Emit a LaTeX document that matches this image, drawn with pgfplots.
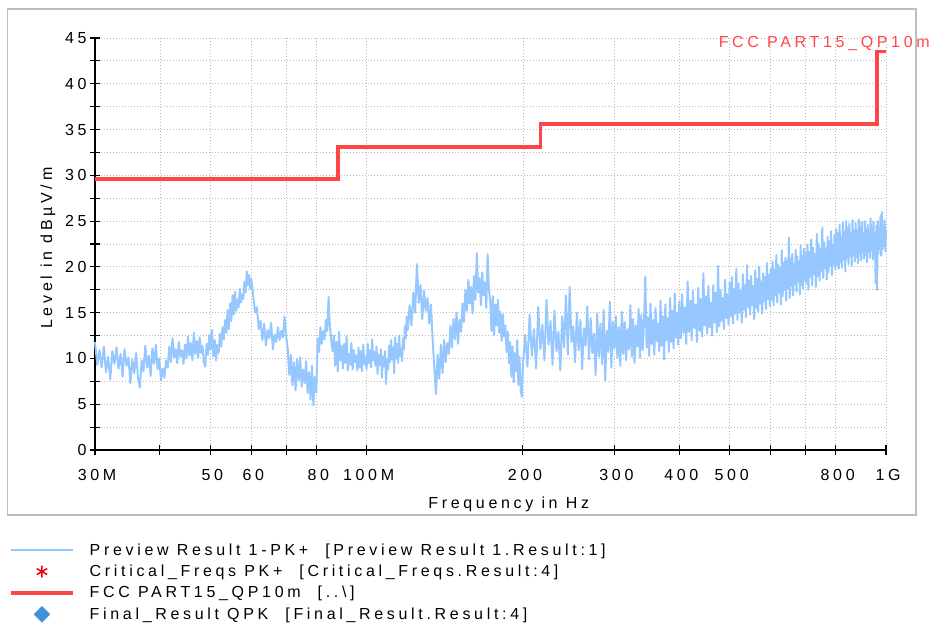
\documentclass[border=0pt]{standalone}
\usepackage{fontspec}
\setmainfont{Liberation Sans}[LetterSpace=23]
\usepackage{pgfplots}
\pgfplotsset{compat=1.18}

\definecolor{trace}{RGB}{150,200,255}
\definecolor{limitred}{RGB}{255,70,70}
\definecolor{astred}{RGB}{240,0,0}
\definecolor{qpk}{RGB}{65,145,220}
\definecolor{gridc}{RGB}{185,185,185}
\definecolor{framec}{RGB}{190,190,190}
\newcommand\fs{\fontsize{16}{19}\selectfont}

\begin{document}
\begin{tikzpicture}[x=1pt,y=1pt]
\useasboundingbox (0,0) rectangle (939,626);
\draw[framec, line width=1.6pt] (7.5,617) rectangle (916,111);
\begin{axis}[
    at={(95pt,176pt)}, anchor=south west,
    scale only axis, width=791pt, height=412pt,
    xmode=log, xmin=30, xmax=1000, ymin=0, ymax=45,
    axis lines=left, axis line style={-, line width=1.3pt, black},
    xtick={30,40,50,60,70,80,100,200,300,400,500,600,700,800,1000},
    xticklabels={30M,,50,60,,80,100M,200,300,400,500,,,800,1G},
    minor xtick={},
    ytick={0,5,...,45},
    yticklabels={0,5,10,15,20,25,30,35,40,45},
    minor ytick={2.5,7.5,...,42.5},
    grid=both,
    major grid style={gridc, line width=0.8pt, dash pattern=on 1.2pt off 1.8pt},
    minor grid style={gridc, line width=0.8pt, dash pattern=on 1.2pt off 1.8pt},
    tick align=center, major tick length=10pt, minor tick length=10pt,
    tick style={black, line width=1.1pt},
    every tick label/.append style={font=\fs, text=black},
    xticklabel style={anchor=center, yshift=-20pt, xshift=2pt},
    yticklabel style={anchor=east},
    xlabel={Frequency in Hz},
    ylabel={Level in dBµV/m},
    xlabel style={font=\fs, at={(axis description cs:0.523,-0.133)}, anchor=center},
    ylabel style={font=\fs, at={(axis description cs:-0.0594,0.49)}, anchor=center},
    clip=false,
    legend cell align=left,
    legend image code/.code={\draw[mark repeat=2,mark phase=2,#1] plot coordinates {(0pt,0pt)(31pt,0pt)(62pt,0pt)};},
    legend style={at={(axis description cs:-0.1125,-0.217)}, anchor=north west,
        draw=none, fill=none, font=\fs, row sep=4.3pt,
        /tikz/every odd column/.append style={column sep=13pt}},
]
% Preview Result 1-PK+ (MHz, dBuV/m)
\addplot[trace, line width=2pt, line join=round] coordinates {
(30.0,11.8)(30.3,9.3)(30.6,10.9)(30.9,9.0)(31.2,11.3)(31.5,8.5)(31.8,10.2)(32.1,7.7)(32.4,10.8)(32.7,9.4)
(33.0,11.2)(33.3,8.9)(33.6,10.5)(33.9,8.0)(34.2,11.0)(34.5,9.2)(34.8,10.1)(35.1,7.3)(35.4,9.9)(35.7,8.4)
(36.0,10.6)(36.3,7.9)(36.6,6.8)(36.9,9.8)(37.2,8.6)(37.5,11.4)(37.8,9.0)(38.1,10.3)(38.4,8.1)(38.7,11.1)
(39.0,9.4)(39.3,11.5)(39.6,8.8)(39.9,10.0)(40.2,7.6)(40.5,8.9)(40.8,7.9)(41.1,9.8)(41.4,9.0)(41.7,11.3)
(42.0,9.6)(42.3,12.2)(42.6,10.1)(42.9,11.0)(43.2,9.5)(43.5,11.8)(43.8,10.2)(44.1,10.9)(44.4,9.4)(44.7,11.5)
(45.0,10.0)(45.3,12.4)(45.6,10.3)(45.9,11.7)(46.2,9.8)(46.5,12.8)(46.8,10.5)(47.1,11.9)(47.4,10.1)(47.7,12.3)
(48.0,10.6)(48.3,11.4)(48.6,9.6)(48.9,9.1)(49.2,11.6)(49.5,10.4)(49.8,12.6)(50.1,11.0)(50.4,13.1)(50.7,10.2)
(51.0,12.0)(51.3,9.8)(51.6,11.5)(51.9,10.6)(52.2,12.7)(52.5,11.3)(52.8,13.4)(53.1,12.1)(53.4,14.2)(53.7,12.8)
(54.0,15.3)(54.3,13.2)(54.6,16.0)(54.9,14.1)(55.2,16.9)(55.5,14.8)(55.8,17.3)(56.1,15.2)(56.4,16.4)(56.7,15.6)
(57.0,17.6)(57.3,16.1)(57.6,17.0)(57.9,16.5)(58.2,18.4)(58.5,17.2)(58.8,19.5)(59.1,18.0)(59.4,19.1)(59.7,17.6)
(60.0,18.7)(60.5,16.8)(61.0,15.0)(61.5,15.6)(62.0,13.2)(62.5,14.1)(63.0,12.0)(63.5,13.8)(64.0,11.4)(64.5,13.1)
(65.0,12.2)(65.5,13.9)(66.0,11.0)(66.5,12.6)(67.0,11.8)(67.5,13.4)(68.0,12.0)(68.5,13.0)(69.0,12.3)(69.5,14.6)
(70.0,12.5)(70.5,11.0)(71.0,8.2)(71.5,10.4)(72.0,7.1)(72.5,9.6)(73.0,6.5)(73.5,9.9)(74.0,7.6)(74.5,10.1)
(75.0,6.9)(75.5,8.8)(76.0,7.3)(76.5,9.7)(77.0,6.2)(77.5,8.5)(78.0,5.5)(78.5,9.2)(79.0,4.9)(79.5,8.0)
(80.0,6.3)(80.5,12.2)(81.0,10.7)(81.5,13.4)(82.0,11.6)(82.5,13.0)(83.0,12.1)(83.5,14.2)(84.0,13.0)(84.5,16.7)
(85.0,13.5)(85.5,12.0)(86.0,10.8)(86.5,12.5)(87.0,9.2)(87.5,11.8)(88.0,8.6)(88.5,12.9)(89.0,9.8)(89.5,11.4)
(90.0,8.9)(90.5,11.6)(91.0,9.5)(91.5,12.4)(92.0,8.7)(92.5,10.5)(93.0,9.3)(93.5,11.7)(94.0,8.8)(94.5,10.9)
(95.0,9.6)(95.5,10.3)(96.0,8.7)(96.5,11.2)(97.0,9.0)(97.5,10.8)(98.0,8.6)(98.5,11.5)(99.0,9.4)(99.5,10.2)
(100.0,8.8)(100.5,11.6)(101.0,9.5)(101.5,10.9)(102.0,9.0)(102.5,12.1)(103.0,9.8)(103.5,10.7)(104.0,9.2)(104.5,11.3)
(105.0,8.3)(105.5,10.4)(106.0,9.3)(106.5,11.0)(107.0,7.9)(107.5,10.2)(108.0,9.1)(108.5,10.8)(109.0,7.2)(109.5,9.9)
(110.0,8.8)(110.5,11.4)(111.0,9.6)(111.5,12.0)(112.0,9.9)(112.5,11.2)(113.0,8.4)(113.5,12.3)(114.0,10.0)(114.5,11.6)
(115.0,9.5)(115.5,12.5)(116.0,10.3)(116.5,11.1)(117.0,9.7)(117.5,12.2)(118.0,11.0)(118.5,13.5)(119.0,12.2)(119.5,14.6)
(120,13.1)(121,15.8)(122,13.6)(123,17.2)(124,15.0)(125,20.3)(126,16.1)(127,18.0)(128,14.3)(129,17.4)
(130,15.2)(131,16.6)(132,13.8)(133,15.9)(134,12.1)(135,9.0)(136,6.1)(137,10.4)(138,7.8)(139,11.5)
(140,8.4)(141,12.0)(142,9.6)(143,11.7)(144,10.5)(145,13.6)(146,11.2)(147,14.3)(148,12.1)(149,15.0)
(150,11.6)(151,14.2)(152,12.9)(153,16.0)(154,14.0)(155,17.5)(156,15.2)(157,18.6)(158,16.0)(159,17.8)
(160,14.9)(161,19.0)(162,16.4)(163,21.5)(164,17.2)(165,18.8)(166,15.8)(167,19.4)(168,16.9)(169,18.3)
(170,15.5)(171,21.4)(172,17.5)(173,16.2)(174,13.0)(175,16.8)(176,12.5)(177,15.9)(178,13.6)(179,16.4)
(180,12.8)(181,15.1)(182,11.9)(183,14.8)(184,12.4)(185,13.6)(186,10.7)(187,12.9)(188,9.5)(189,11.8)
(190,8.0)(191,11.3)(192,7.4)(193,10.6)(194,8.6)(195,12.0)(196,7.1)(197,10.2)(198,6.6)(199,5.8)
(200,9.4)(202,12.6)(204,9.1)(206,14.8)(208,10.3)(210,13.2)(212,8.9)(214,15.6)(216,11.0)(218,13.7)
(220,9.8)(222,16.4)(224,11.5)(226,14.1)(228,9.3)(230,15.2)(232,10.8)(234,12.9)(236,8.7)(238,14.6)
(240,11.2)(242,16.9)(244,10.4)(246,17.8)(248,11.8)(250,13.5)(252,9.6)(254,15.0)(256,10.9)(258,14.2)
(260,8.8)(262,13.3)(264,11.4)(266,15.7)(268,9.9)(270,14.4)(272,10.6)(274,12.7)(276,8.2)(278,14.9)
(280,10.2)(282,13.8)(284,9.4)(286,15.3)(288,7.6)(290,13.0)(292,10.7)(294,16.2)(296,9.0)(298,14.0)
(300,11.1)(302,14.6)(304,10.0)(306,13.4)(308,9.2)(310,15.1)(312,10.5)(314,14.0)(316,9.8)(318,13.2)
(320,11.0)(322,15.8)(324,10.2)(326,14.3)(328,9.5)(330,13.6)(332,11.3)(334,15.4)(336,10.1)(338,14.8)
(340,10.9)(342,13.9)(344,18.9)(346,11.2)(348,14.5)(350,10.3)(352,16.0)(354,11.6)(356,14.2)(358,10.4)
(360,15.5)(362,11.9)(364,13.8)(366,10.8)(368,16.3)(370,11.4)(372,14.6)(374,9.9)(376,15.9)(378,12.0)
(380,14.4)(382,10.7)(384,16.6)(386,11.8)(388,15.2)(390,11.1)(392,17.1)(394,12.3)(396,15.0)(398,11.5)
(400,16.2)(402.5,12.2)(405,17.0)(407.5,12.8)(410,15.6)(412.5,11.6)(415,18.4)(417.5,12.9)(420,16.3)(422.5,12.0)
(425,17.4)(427.5,13.3)(430,15.9)(432.5,11.8)(435,17.7)(437.5,13.0)(440,16.5)(442.5,12.4)(445,19.3)(447.5,13.6)
(450,16.8)(452.5,12.7)(455,17.9)(457.5,13.4)(460,16.1)(462.5,12.5)(465,18.0)(467.5,13.9)(470,17.2)(472.5,12.9)
(475,20.1)(477.5,13.5)(480,17.5)(482.5,14.1)(485,16.6)(487.5,13.2)(490,18.6)(492.5,14.4)(495,17.0)(497.5,13.7)
(500,18.3)(502.5,14.6)(505,18.9)(507.5,13.8)(510,17.6)(512.5,14.9)(515,19.8)(517.5,14.2)(520,18.2)(522.5,15.0)
(525,17.4)(527.5,13.9)(530,19.2)(532.5,15.3)(535,18.0)(537.5,14.5)(540,20.2)(542.5,15.6)(545,18.5)(547.5,14.8)
(550,19.0)(552.5,15.8)(555,17.9)(557.5,14.3)(560,19.6)(562.5,15.5)(565,18.7)(567.5,15.1)(570,20.0)(572.5,16.0)
(575,18.4)(577.5,14.9)(580,19.3)(582.5,16.2)(585,18.9)(587.5,15.4)(590,20.4)(592.5,16.5)(595,19.1)(597.5,15.7)
(600,19.8)(602.5,16.4)(605,20.6)(607.5,15.8)(610,19.7)(612.5,16.9)(615,21.3)(617.5,16.1)(620,20.2)(622.5,17.2)
(625,19.9)(627.5,15.9)(630,21.8)(632.5,16.8)(635,20.4)(637.5,17.5)(640,21.0)(642.5,16.3)(645,20.7)(647.5,17.7)
(650,23.2)(652.5,16.6)(655,20.9)(657.5,17.9)(660,21.4)(662.5,16.9)(665,20.3)(667.5,18.1)(670,21.9)(672.5,17.3)
(675,21.1)(677.5,18.4)(680,20.6)(682.5,17.0)(685,22.3)(687.5,18.0)(690,21.2)(692.5,17.6)(695,22.0)(697.5,18.6)
(700,21.5)(703,18.2)(706,22.4)(709,17.5)(712,21.6)(715,18.9)(718,23.0)(721,18.0)(724,22.1)(727,19.2)
(730,21.4)(733,17.8)(736,23.6)(739,19.0)(742,22.5)(745,18.5)(748,21.9)(751,19.6)(754,24.3)(757,18.8)
(760,22.7)(763,19.9)(766,22.0)(769,18.6)(772,23.3)(775,19.4)(778,22.8)(781,20.1)(784,23.9)(787,19.1)
(790,22.4)(793,20.3)(796,23.5)(799,19.7)(802,24.1)(805,20.2)(808,23.7)(811,19.8)(814,24.6)(817,20.5)
(820,23.2)(823,19.9)(826,24.9)(829,20.8)(832,23.8)(835,19.5)(838,25.0)(841,21.0)(844,24.2)(847,20.3)
(850,24.7)(853,21.2)(856,23.6)(859,20.1)(862,25.1)(865,21.4)(868,24.0)(871,20.6)(874,24.8)(877,21.1)
(880,23.9)(883,20.4)(886,25.2)(889,21.5)(892,24.4)(895,20.7)(898,24.9)(901,21.6)(904,23.7)(907,20.9)
(910,25.0)(913,21.3)(916,24.1)(919,20.5)(922,24.6)(925,21.7)(928,23.8)(931,21.0)(934,25.3)(937,21.8)
(940,24.3)(943,20.8)(946,24.9)(949,21.9)(952,23.6)(955,18.2)(958,24.5)(961,17.5)(964,25.0)(967,21.4)
(970,24.2)(973,22.0)(976,25.6)(979,21.2)(982,26.0)(985,21.9)(988,24.4)(991,22.3)(994,25.1)(997,21.7)
(1000,23.9)
};
\addlegendentry{Preview Result 1-PK+\hspace{17pt}[Preview Result 1.Result:1]}
\addlegendimage{only marks, mark=asterisk, astred, mark size=6pt, line width=1.5pt}
\addlegendentry{Critical\_Freqs PK+\hspace{17pt}[Critical\_Freqs.Result:4]}
% FCC Part 15 class B limit at 10 m
\addplot[limitred, line width=3.5pt] coordinates {
(30,29.6)(88,29.6)(88,33.1)(216,33.1)(216,35.6)(960,35.6)(960,43.5)(1000,43.5)
};
\addlegendentry{FCC PART15\_QP10m\hspace{17pt}[..\textbackslash]}
\addlegendimage{only marks, mark=square*, qpk, mark size=5.6pt, mark options={rotate=45}}
\addlegendentry{Final\_Result QPK\hspace{17pt}[Final\_Result.Result:4]}
\node[anchor=west, font=\fs, text=limitred, inner sep=0pt] at (axis cs:476,44.4) {FCC PART15\_QP10m};
\end{axis}
\end{tikzpicture}
\end{document}
